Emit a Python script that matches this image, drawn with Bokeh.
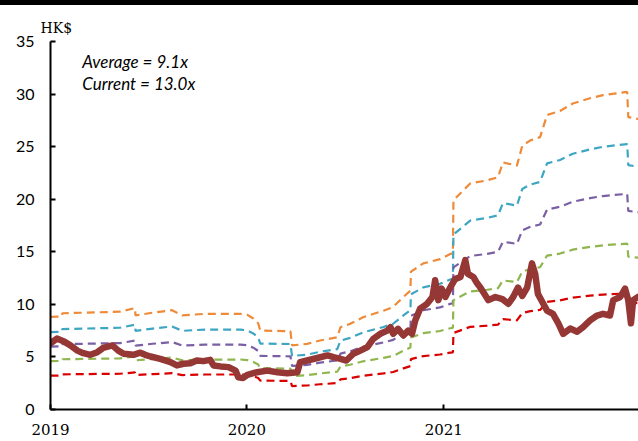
import pandas as pd
from bokeh.plotting import figure
from bokeh.models import Range1d, FixedTicker, DatetimeTickFormatter, Label, ColumnDataSource, Div
from bokeh.layouts import column
from bokeh.embed import file_html
from bokeh.resources import INLINE

# ---------------- data ----------------
price_dates = [
    "2019-01-01", "2019-01-13", "2019-01-25", "2019-02-07", "2019-02-20", "2019-03-03",
    "2019-03-16", "2019-03-29", "2019-04-09", "2019-04-26", "2019-05-07", "2019-05-17",
    "2019-06-04", "2019-06-17", "2019-06-26", "2019-07-06", "2019-07-24", "2019-08-12",
    "2019-08-24", "2019-09-05", "2019-09-18", "2019-09-30", "2019-10-12", "2019-10-25",
    "2019-10-31", "2019-11-13", "2019-11-28", "2019-12-11", "2019-12-16", "2019-12-25",
    "2020-01-02", "2020-01-20", "2020-02-08", "2020-02-27", "2020-03-16", "2020-04-04",
    "2020-04-09", "2020-04-22", "2020-05-11", "2020-05-30", "2020-06-10", "2020-06-23",
    "2020-07-04", "2020-07-17", "2020-07-30", "2020-08-12", "2020-08-23", "2020-09-05",
    "2020-09-18", "2020-09-24", "2020-09-29", "2020-10-08", "2020-10-18", "2020-10-27",
    "2020-11-03", "2020-11-09", "2020-11-18", "2020-12-01", "2020-12-11", "2020-12-16",
    "2020-12-22", "2020-12-28", "2021-01-04", "2021-01-13", "2021-01-22", "2021-02-01",
    "2021-02-10", "2021-02-15", "2021-02-25", "2021-03-04", "2021-03-10", "2021-03-15",
    "2021-03-25", "2021-04-07", "2021-04-20", "2021-05-01", "2021-05-10", "2021-05-19",
    "2021-05-27", "2021-06-05", "2021-06-14", "2021-06-20", "2021-06-25", "2021-07-05",
    "2021-07-12", "2021-07-23", "2021-08-02", "2021-08-11", "2021-08-24", "2021-09-06",
    "2021-09-17", "2021-09-30", "2021-10-13", "2021-10-24", "2021-11-06", "2021-11-12",
    "2021-11-25", "2021-12-04", "2021-12-10", "2021-12-15", "2021-12-19", "2021-12-28",
]
price_values = [
    6.3, 6.75, 6.5, 6.1, 5.6, 5.36,
    5.2, 5.45, 5.87, 6.1, 5.6, 5.3,
    5.2, 5.4, 5.2, 5.04, 4.82, 4.5,
    4.19, 4.35, 4.4, 4.66, 4.6, 4.72,
    4.19, 4.1, 4.03, 3.7, 3.07, 3.0,
    3.3, 3.55, 3.7, 3.55, 3.45, 3.55,
    4.5, 4.66, 4.9, 5.14, 4.98, 4.82,
    4.66, 5.3, 5.6, 5.93, 6.72, 7.2,
    7.5, 7.83, 7.2, 7.67, 7.04, 7.5,
    7.2, 8.47, 9.58, 10.05, 10.7, 12.3,
    10.4, 11.5, 10.7, 11.6, 12.4, 12.6,
    14.2, 12.9, 12.6, 12.0, 11.6, 11.2,
    10.4, 10.7, 10.5, 10.05, 10.7, 11.6,
    10.8, 11.6, 13.9, 12.9, 11.0, 10.05,
    9.4, 9.1, 8.2, 7.2, 7.7, 7.4,
    7.83, 8.47, 8.94, 9.1, 8.94, 10.4,
    10.7, 11.5, 10.4, 8.2, 10.4, 10.7,
]

# earnings per share (HK$) behind the valuation bands
eps_dates = [
    "2019-01-01", "2019-01-22", "2019-01-23", "2019-05-10", "2019-06-07", "2019-06-08",
    "2019-07-10", "2019-08-15", "2019-09-03", "2019-10-15", "2019-12-20", "2020-01-02",
    "2020-01-13", "2020-01-22", "2020-01-26", "2020-03-22", "2020-03-25", "2020-04-22",
    "2020-05-16", "2020-06-17", "2020-06-23", "2020-07-11", "2020-08-04", "2020-09-11",
    "2020-09-29", "2020-10-18", "2020-10-31", "2020-11-01", "2020-11-24", "2020-12-25",
    "2021-01-13", "2021-01-18", "2021-01-19", "2021-02-19", "2021-03-23", "2021-04-12",
    "2021-04-21", "2021-05-17", "2021-05-27", "2021-06-11", "2021-06-29", "2021-07-12",
    "2021-08-05", "2021-08-29", "2021-09-30", "2021-10-24", "2021-12-08", "2021-12-10",
    "2021-12-31",
]
eps_values = [
    0.657, 0.660, 0.683, 0.694, 0.720, 0.668,
    0.687, 0.705, 0.668, 0.679, 0.679, 0.672,
    0.646, 0.612, 0.560, 0.556, 0.455, 0.466,
    0.490, 0.513, 0.584, 0.608, 0.655, 0.701,
    0.728, 0.799, 0.843, 0.978, 1.037, 1.067,
    1.104, 1.110, 1.485, 1.604, 1.627, 1.649,
    1.754, 1.731, 1.873, 1.910, 1.933, 2.090,
    2.119, 2.172, 2.209, 2.231, 2.254, 2.075,
    2.060,
]

band_multiples = [13.4, 11.2, 9.1, 7.0, 4.9]          # P/E levels of the bands
band_colors = ["#EE8B3A", "#3EA6C2", "#7B5FA5", "#8FB64F", "#D90000"]

year_ticks = ["2019-01-01", "2020-01-01", "2021-01-01"]
y_ticks = [0, 5, 10, 15, 20, 25, 30, 35]
average_pe = 9.1
current_pe = 13.0

# ---------------- chart ----------------
def ms(d):
    return pd.Timestamp(d).value // 10**6

x_start = ms("2019-01-01")
x_end = ms("2021-12-29")

p = figure(width=638, height=436, x_axis_type="datetime",
           x_range=Range1d(x_start, x_end), y_range=Range1d(0, 35),
           output_backend="svg", toolbar_location=None,
           min_border_left=50, min_border_right=0, min_border_top=36, min_border_bottom=32)
p.xgrid.visible = False
p.ygrid.visible = False
p.outline_line_color = None
p.background_fill_color = "white"
p.border_fill_color = "white"

# unit label above the axis
p.title.text = "HK$"
p.title.align = "left"
p.title.offset = -10
p.title.standoff = 11
p.title.text_font = "DejaVu Serif"
p.title.text_font_size = "14px"
p.title.text_font_style = "normal"
p.title.text_color = "black"

eps_x = pd.to_datetime(eps_dates)
for mult, col in zip(band_multiples, band_colors):
    src = ColumnDataSource(dict(x=eps_x, y=[e * mult for e in eps_values]))
    p.line("x", "y", source=src, line_color=col, line_width=2.2, line_dash="8 5")

p.line(pd.to_datetime(price_dates), price_values, line_color="#953735", line_width=6.5,
       line_join="round", line_cap="round")

# axes
for ax in (p.xaxis[0], p.yaxis[0]):
    ax.axis_line_color = "black"
    ax.axis_line_width = 2
    ax.major_tick_line_color = "black"
    ax.major_tick_line_width = 2
    ax.major_tick_in = 5
    ax.major_tick_out = 0
    ax.minor_tick_line_color = None

p.xaxis.ticker = FixedTicker(ticks=[ms(d) for d in year_ticks])
p.xaxis.formatter = DatetimeTickFormatter(years="%Y", months="%Y", days="%Y",
                                          hours="%Y", minutes="%Y", seconds="%Y")
p.xaxis.major_label_text_font = "DejaVu Serif"
p.xaxis.major_label_text_font_size = "15px"
p.xaxis.major_label_text_color = "black"
p.xaxis.major_label_standoff = 14

p.yaxis.ticker = FixedTicker(ticks=y_ticks)
p.yaxis.major_label_text_font = "Lato"
p.yaxis.major_label_text_font_size = "16px"
p.yaxis.major_label_text_color = "black"
p.yaxis.major_label_standoff = 16

# texts
p.add_layout(Label(x=ms("2019-03-01"), y=33.1, text=f"Average = {average_pe:.1f}x",
                   text_font="Lato", text_font_style="italic", text_font_size="17px",
                   text_color="black", text_baseline="middle"))
p.add_layout(Label(x=ms("2019-03-01"), y=31.0, text=f"Current = {current_pe:.1f}x",
                   text_font="Lato", text_font_style="italic", text_font_size="17px",
                   text_color="black", text_baseline="middle"))

# black rule across the top
bar = Div(text="", width=638, height=5, margin=(0, 0, 0, 0),
          styles={"background-color": "black"})

layout = column(bar, p, spacing=0)
open("out.html", "w").write(file_html(layout, INLINE))
